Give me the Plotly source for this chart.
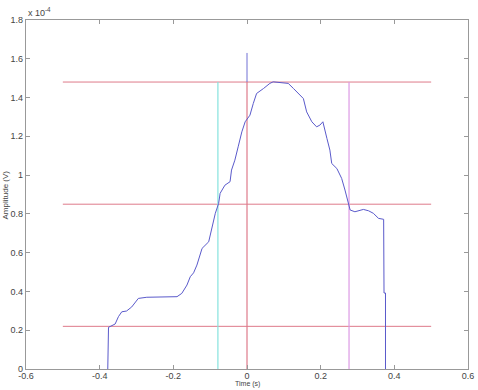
import plotly.graph_objects as go

# Signal (amplitude in units of 1e-4 V)
sig_t = [-0.378, -0.378, -0.376, -0.358, -0.349, -0.340, -0.327, -0.313, -0.295, -0.272,
         -0.218, -0.190, -0.177, -0.163, -0.154, -0.145, -0.136, -0.127, -0.122, -0.104,
         -0.095, -0.086, -0.077, -0.073, -0.060, -0.046, -0.042, -0.033, -0.024, -0.014,
         -0.005, 0.008, 0.017, 0.026, 0.045, 0.062, 0.071, 0.099, 0.112, 0.126,
         0.139, 0.153, 0.162, 0.176, 0.189, 0.198, 0.206, 0.212, 0.217, 0.225,
         0.230, 0.244, 0.257, 0.266, 0.275, 0.280, 0.293, 0.307, 0.316, 0.330,
         0.343, 0.357, 0.371, 0.372, 0.376, 0.376]
sig_v = [0.0, 0.21, 0.215, 0.232, 0.27, 0.295, 0.299, 0.32, 0.364, 0.37,
         0.37, 0.373, 0.39, 0.433, 0.476, 0.496, 0.536, 0.588, 0.622, 0.656,
         0.733, 0.803, 0.854, 0.906, 0.948, 0.966, 1.026, 1.077, 1.146, 1.223,
         1.275, 1.309, 1.369, 1.421, 1.447, 1.473, 1.481, 1.476, 1.473, 1.447,
         1.421, 1.395, 1.326, 1.275, 1.249, 1.258, 1.275, 1.223, 1.189, 1.129,
         1.06, 1.034, 0.983, 0.923, 0.854, 0.82, 0.811, 0.82, 0.823, 0.816,
         0.803, 0.777, 0.772, 0.392, 0.392, 0.0]

# Marker spike at t = 0
spike_t = [0.0, 0.0]
spike_v = [1.48, 1.63]

# Horizontal reference levels
h_levels = [1.48, 0.85, 0.22]
h_span = [-0.5, 0.5]

# Vertical reference markers
v_pos = [-0.079, 0.0, 0.277]
v_colors = ["#86e3de", "#de7a8a", "#dc9ae4"]
v_top = 1.48

x_ticks = [-0.6, -0.4, -0.2, 0, 0.2, 0.4, 0.6]
x_ticklabels = ["-0.6", "-0.4", "-0.2", "0", "0.2", "0.4", "0.6"]
y_ticks = [0, 0.2, 0.4, 0.6, 0.8, 1.0, 1.2, 1.4, 1.6, 1.8]
y_ticklabels = ["0", "0.2", "0.4", "0.6", "0.8", "1", "1.2", "1.4", "1.6", "1.8"]

red = "#de7a8a"
font_fam = "Liberation Sans, Arial"

fig = go.Figure()
for lv in h_levels:
    fig.add_trace(go.Scatter(x=h_span, y=[lv, lv], mode="lines",
                             line=dict(color=red, width=1), hoverinfo="skip"))
for xp, c in zip(v_pos, v_colors):
    fig.add_trace(go.Scatter(x=[xp, xp], y=[0, v_top], mode="lines",
                             line=dict(color=c, width=1.2), hoverinfo="skip"))
fig.add_trace(go.Scatter(x=spike_t, y=spike_v, mode="lines",
                         line=dict(color="#7070d4", width=1)))
fig.add_trace(go.Scatter(x=sig_t, y=sig_v, mode="lines",
                         line=dict(color="#5a5acb", width=1)))

axis_common = dict(showline=True, linecolor="#999999", linewidth=1.2, mirror="ticks",
                   ticks="inside", ticklen=4, tickcolor="#999999", showgrid=False,
                   zeroline=False, tickfont=dict(family=font_fam, size=9, color="#444444"))

fig.update_layout(
    width=478, height=390,
    margin=dict(l=26, r=10, t=20, b=21, autoexpand=False),
    paper_bgcolor="white", plot_bgcolor="white",
    showlegend=False,
    xaxis=dict(range=[-0.6, 0.6], tickvals=x_ticks, ticktext=x_ticklabels,
               ticklabelstandoff=-2, **axis_common),
    yaxis=dict(range=[0, 1.8], tickvals=y_ticks, ticktext=y_ticklabels, **axis_common),
    annotations=[
        dict(text="x 10<sup>-4</sup>", xref="paper", yref="paper", x=0.0, y=1.0,
             xanchor="left", yanchor="bottom", showarrow=False,
             font=dict(family=font_fam, size=9, color="#444444")),
        dict(text="Time (s)", xref="paper", yref="paper", x=0.5, y=-0.0595,
             xanchor="center", yanchor="bottom", showarrow=False,
             font=dict(family=font_fam, size=7, color="#444444")),
        dict(text="Amplitude (V)", xref="paper", yref="paper", x=-0.06, y=0.5,
             xanchor="left", yanchor="middle", textangle=-90, showarrow=False,
             font=dict(family=font_fam, size=8, color="#444444")),
    ],
)

fig.write_html("out.html")
